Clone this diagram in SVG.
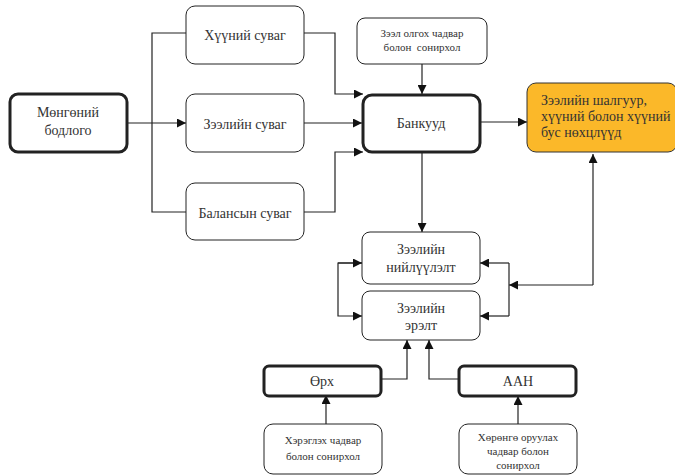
<svg xmlns="http://www.w3.org/2000/svg" width="675" height="476" viewBox="0 0 675 476">
<style>
.n{fill:#fff;stroke:#222;stroke-width:1}
.t{fill:#fff;stroke:#222;stroke-width:3}
.y{fill:#FBB829;stroke:#333;stroke-width:1}
text{fill:#333;text-anchor:middle}
.m{font-size:14px}
.s{font-size:11px}
.c path{fill:none;stroke:#222;stroke-width:1.2}
</style>
<defs>
<marker id="a" viewBox="0 0 10 10" refX="10" refY="5" markerWidth="9" markerHeight="9" markerUnits="userSpaceOnUse" orient="auto"><path d="M0,0L10,5L0,10z" fill="#111"/></marker>
</defs>
<g class="c">
<path d="M128,123H186" marker-end="url(#a)"/>
<path d="M186,33H152V212H186"/>
<path d="M304,33H335V94H363" marker-end="url(#a)"/>
<path d="M304,123H362" marker-end="url(#a)"/>
<path d="M304,212H335V152H363" marker-end="url(#a)"/>
<path d="M422,64V94" marker-end="url(#a)"/>
<path d="M481,122H527" marker-end="url(#a)"/>
<path d="M422,153V232" marker-end="url(#a)"/>
<path d="M593,285V154" marker-end="url(#a)"/>
<path d="M593,285H509" marker-end="url(#a)"/>
<path d="M509,263V316"/>
<path d="M509,263H480" marker-end="url(#a)"/>
<path d="M509,316H480" marker-end="url(#a)"/>
<path d="M362,263H338V316H362" marker-end="url(#a)"/>
<path d="M338,263H362" marker-end="url(#a)"/>
<path d="M381,379H407V340" marker-end="url(#a)"/>
<path d="M459,379H429V340" marker-end="url(#a)"/>
<path d="M326,424V395" marker-end="url(#a)"/>
<path d="M518,424V396" marker-end="url(#a)"/>
</g>
<g font-family="'Liberation Serif', 'DejaVu Serif', 'Times New Roman', serif">
<g id="mongo"><rect class="t" x="10" y="94" width="117" height="58" rx="8"/><text class="m" x="68" y="117">Мөнгөний</text><text class="m" x="68" y="135">бодлого</text></g>
<g id="khuu"><rect class="n" x="186" y="6" width="118" height="58" rx="9"/><text class="m" x="245" y="40">Хүүний суваг</text></g>
<g id="zeel"><rect class="n" x="186" y="94" width="118" height="58" rx="9"/><text class="m" x="245" y="129">Зээлийн суваг</text></g>
<g id="balans"><rect class="n" x="186" y="183" width="118" height="57" rx="9"/><text class="m" x="245" y="218">Балансын суваг</text></g>
<g id="olgokh"><rect class="n" x="357" y="18" width="130" height="46" rx="8"/><text class="s" x="422" y="37">Зээл олгох чадвар</text><text class="s" x="422" y="51" xml:space="preserve">болон  сонирхол</text></g>
<g id="bank"><rect class="t" x="363" y="95" width="117" height="57" rx="9"/><text class="m" x="421" y="128">Банкууд</text></g>
<g id="shalguur"><rect class="y" x="527" y="83" width="150" height="69" rx="9"/><text class="m" x="541" y="105" style="text-anchor:start">Зээлийн шалгуур,</text><text class="m" x="541" y="121" style="text-anchor:start">хүүний болон хүүний</text><text class="m" x="541" y="137" style="text-anchor:start">бус нөхцлүүд</text></g>
<g id="niiluulelt"><rect class="n" x="362" y="232" width="118" height="52" rx="8"/><text class="m" x="421" y="254">Зээлийн</text><text class="m" x="421" y="272">нийлүүлэлт</text></g>
<g id="erelt"><rect class="n" x="362" y="291" width="118" height="49" rx="8"/><text class="m" x="421" y="313">Зээлийн</text><text class="m" x="421" y="330">эрэлт</text></g>
<g id="orkh"><rect class="t" x="264" y="366" width="117" height="30" rx="5"/><text class="m" x="322" y="386">Өрх</text></g>
<g id="aan"><rect class="t" x="459" y="366" width="117" height="30" rx="5"/><text class="m" x="518" y="386">ААН</text></g>
<g id="kheregle"><rect class="n" x="264" y="424" width="118" height="50" rx="9"/><text class="s" x="323" y="444">Хэрэглэх чадвар</text><text class="s" x="323" y="460">болон сонирхол</text></g>
<g id="khorongo"><rect class="n" x="459" y="424" width="118" height="50" rx="9"/><text class="s" x="518" y="441">Хөрөнгө оруулах</text><text class="s" x="518" y="455">чадвар болон</text><text class="s" x="518" y="469">сонирхол</text></g>
</g>
</svg>
